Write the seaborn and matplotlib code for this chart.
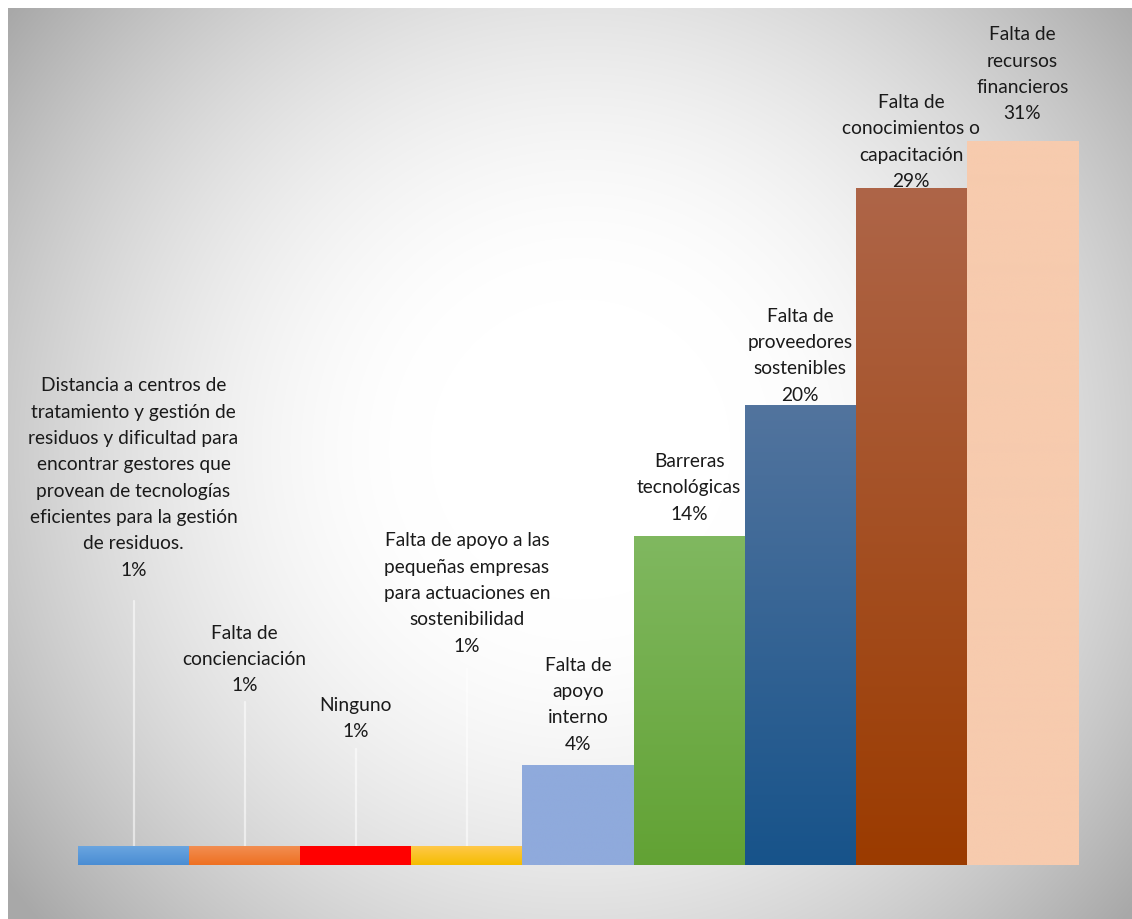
import numpy as np
import pandas as pd
import matplotlib
matplotlib.use("Agg")
import matplotlib.pyplot as plt
import matplotlib.patheffects as pe
import seaborn as sns
from matplotlib.colors import to_rgb

# ---------------- data ----------------
categories = [
    "Distancia a centros de\ntratamiento y gestión de\nresiduos y dificultad para\nencontrar gestores que\nprovean de tecnologías\neficientes para la gestión\nde residuos.",
    "Falta de\nconcienciación",
    "Ninguno",
    "Falta de apoyo a las\npequeñas empresas\npara actuaciones en\nsostenibilidad",
    "Falta de\napoyo\ninterno",
    "Barreras\ntecnológicas",
    "Falta de\nproveedores\nsostenibles",
    "Falta de\nconocimientos o\ncapacitación",
    "Falta de\nrecursos\nfinancieros",
]
values = [0.8, 0.8, 0.8, 0.8, 4.3, 14.1, 19.7, 29.0, 31.0]

# ---------------- styling / layout ----------------
top_colors = ["#6aa5e0", "#f28e52", "#ff0000", "#ffc84a", "#8faadc",
              "#80b860", "#52749e", "#ae6548", "#f7cbae"]
bot_colors = ["#4a8dd3", "#ee7021", "#ff0000", "#f5bd00", "#8faadc",
              "#62a234", "#17538a", "#9b3b00", "#f7cbae"]
label_y = [12.3, 7.35, 5.4, 9.05, 4.85, 14.7, 19.8, 28.95, 31.85]
leader_top = [11.3, 7.0, 4.95, 8.4, None, None, None, None, None]

W, H = 1132, 920
sns.set_theme(style="white")
plt.rcParams["font.family"] = ["Lato", "DejaVu Sans"]

fig = plt.figure(figsize=(W / 100, H / 100), dpi=100)
fig.patch.set_facecolor("white")

# background radial gradient panel
bx0, by0 = 8, 9
bg_ax = fig.add_axes([bx0 / W, 0, (W - bx0) / W, (H - by0) / H])
bg_ax.set_axis_off()
xs = np.arange(bx0, W)
ys = np.arange(by0, H)
XX, YY = np.meshgrid(xs, ys)
d = np.hypot(XX - 580, YY - 450)
t = np.clip((d - 150) / (720 - 150), 0, 1) ** 1.7
v = (255 - 87 * t) / 255.0
bg_ax.imshow(np.dstack([v, v, v]), aspect="auto", interpolation="bilinear",
             extent=(0, 1, 0, 1), origin="upper")
bg_ax.set_xlim(0, 1)
bg_ax.set_ylim(0, 1)

# main axes
base_px = 866
px_per = 23.35
ymax = 35
ax_h = ymax * px_per
ax = fig.add_axes([78 / W, (H - base_px) / H, 1000 / W, ax_h / H])
ax.patch.set_alpha(0)

df = pd.DataFrame({"cat": range(len(values)), "val": values})
sns.barplot(data=df, x="cat", y="val", hue="cat", palette=top_colors,
            width=1.0, legend=False, ax=ax, saturation=1, edgecolor="none")
ax.set_xlim(-0.5, len(values) - 0.5)
ax.set_ylim(0, ymax)
ax.set_axis_off()

for i, p in enumerate(ax.patches):
    p.set_path_effects([pe.SimplePatchShadow(offset=(3, -3), shadow_rgbFace="#444444", alpha=0.5),
                        pe.Normal()])
    x0, y0 = p.get_x(), p.get_y()
    w, h = p.get_width(), p.get_height()
    c1 = np.array(to_rgb(top_colors[i]))
    c2 = np.array(to_rgb(bot_colors[i]))
    n = 256
    f = np.linspace(0, 1, n)[:, None]
    grad = (c1[None, :] * (1 - f) + c2[None, :] * f)[:, None, :]
    im = ax.imshow(grad, aspect="auto", extent=(x0, x0 + w, y0, y0 + h),
                   origin="upper", interpolation="bilinear", zorder=p.get_zorder() + 0.1)
    im.set_clip_path(p)

ax.set_xlim(-0.5, len(values) - 0.5)
ax.set_ylim(0, ymax)

for i, (cat, val) in enumerate(zip(categories, values)):
    txt = f"{cat}\n{round(val)}%"
    ax.text(i, label_y[i], txt, ha="center", va="bottom", fontsize=13.8,
            color="#1a1a1a", linespacing=1.67, zorder=5)
    if leader_top[i] is not None:
        ax.plot([i, i], [val, leader_top[i]], color="white", alpha=0.55, lw=1.6, zorder=1)

fig.savefig("out.png", dpi=100, facecolor="white")
